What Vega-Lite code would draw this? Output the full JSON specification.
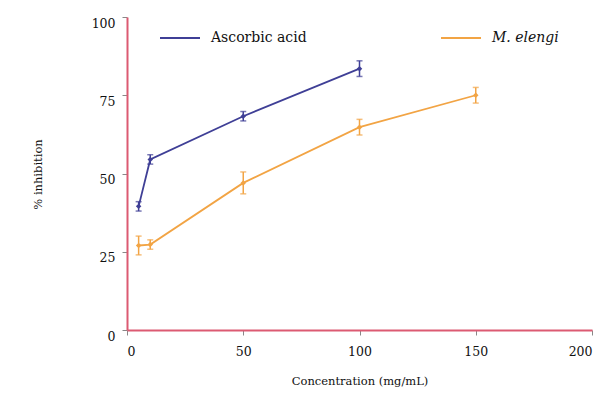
{
  "$schema": "https://vega.github.io/schema/vega-lite/v6.json",
  "width": 465,
  "height": 313,
  "autosize": {"type": "none"},
  "padding": {"left": 127, "top": 17, "right": 16, "bottom": 69},
  "background": "white",
  "config": {
    "view": {"stroke": null},
    "font": "DejaVu Serif",
    "legend": {"labelFont": "DejaVu Serif"},
    "axis": {"grid": false, "labelFont": "DejaVu Serif", "titleFont": "DejaVu Serif", "labelFontSize": 12.5, "titleFontSize": 11.5, "titleFontWeight": "normal", "labelColor": "#111", "titleColor": "#111", "domainColor": "#dc5a72", "domainWidth": 2, "tickColor": "#888", "tickSize": 5}
  },
  "data": {
    "values": [
      {"series": "Ascorbic acid", "conc": 5, "mean": 39.5, "err": 1.5},
      {"series": "Ascorbic acid", "conc": 10, "mean": 54.5, "err": 1.5},
      {"series": "Ascorbic acid", "conc": 50, "mean": 68.3, "err": 1.5},
      {"series": "Ascorbic acid", "conc": 100, "mean": 83.5, "err": 2.5},
      {"series": "M. elengi", "conc": 5, "mean": 27, "err": 3},
      {"series": "M. elengi", "conc": 10, "mean": 27.3, "err": 1.5},
      {"series": "M. elengi", "conc": 50, "mean": 47, "err": 3.5},
      {"series": "M. elengi", "conc": 100, "mean": 64.8, "err": 2.5},
      {"series": "M. elengi", "conc": 150, "mean": 75, "err": 2.5}
    ]
  },
  "transform": [
    {"calculate": "datum.mean - datum.err", "as": "lo"},
    {"calculate": "datum.mean + datum.err", "as": "hi"}
  ],
  "layer": [
    {
      "mark": {"type": "line", "strokeWidth": 1.8},
      "encoding": {
        "x": {"field": "conc", "type": "quantitative", "scale": {"domain": [0, 200], "nice": false}, "axis": {"values": [0, 50, 100, 150, 200], "title": "Concentration (mg/mL)", "labelPadding": 10, "titleY": 51, "titleBaseline": "middle"}},
        "y": {"field": "mean", "type": "quantitative", "scale": {"domain": [0, 100], "nice": false}, "title": "% inhibition", "axis": {"values": [0, 25, 50, 75, 100], "labelPadding": 7, "labelOffset": 6, "titleX": -89, "titleY": 157, "titleAngle": -90, "titleBaseline": "middle", "titleAlign": "center"}},
        "color": {"field": "series", "type": "nominal", "scale": {"domain": ["Ascorbic acid", "M. elengi"], "range": ["#3f3f96", "#f2a444"]},
          "legend": {"title": null, "orient": "none", "legendX": 32, "legendY": 0, "direction": "horizontal", "columns": 2, "columnPadding": 130, "symbolType": "stroke", "symbolSize": 1600, "symbolStrokeWidth": 2, "labelFontSize": 14, "labelFont": "DejaVu Serif", "labelColor": "#111", "labelOffset": 10, "padding": 0,
            "encode": {"labels": {"update": {"fontStyle": {"signal": "datum.label === 'M. elengi' ? 'italic' : 'normal'"}}}}}}
      }
    },
    {
      "mark": {"type": "errorbar", "ticks": {"size": 6}, "thickness": 1.5},
      "encoding": {
        "x": {"field": "conc", "type": "quantitative"},
        "y": {"field": "lo", "type": "quantitative", "title": "% inhibition"},
        "y2": {"field": "hi"},
        "color": {"field": "series", "type": "nominal"}
      }
    },
    {
      "mark": {"type": "point", "filled": true, "shape": "diamond", "size": 30, "opacity": 1},
      "encoding": {
        "x": {"field": "conc", "type": "quantitative"},
        "y": {"field": "mean", "type": "quantitative", "title": "% inhibition"},
        "color": {"field": "series", "type": "nominal"}
      }
    }
  ]
}
